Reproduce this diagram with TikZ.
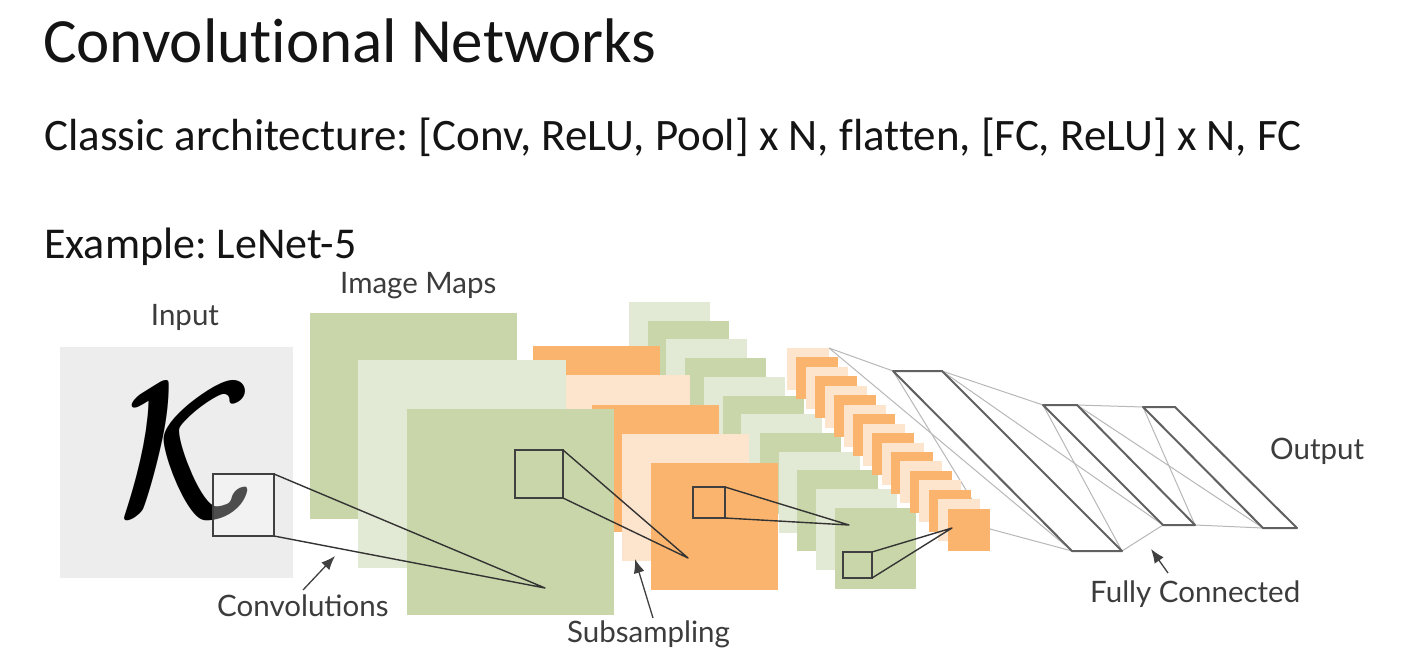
\documentclass[tikz,border=0pt]{standalone}
\usepackage{bm}
\usepackage{fontspec}
\setmainfont{Carlito}[Ligatures=NoCommon]
\newfontfamily\labelfont{Lato}
\usetikzlibrary{arrows.meta}
\frenchspacing

\definecolor{gmid}{HTML}{C9D6AA}
\definecolor{glight}{HTML}{E2E9D4}
\definecolor{orng}{HTML}{FAB46E}
\definecolor{peach}{HTML}{FDE4CC}
\definecolor{inbg}{HTML}{EDEDED}
\definecolor{labelgray}{HTML}{3C3C3C}
\definecolor{headtext}{HTML}{141414}

\begin{document}
\begin{tikzpicture}[x=1pt,y=-1pt,
  headline/.style={anchor=base west, inner sep=0, text=headtext},
  lbl/.style={inner sep=0, text=labelgray, font=\labelfont\fontsize{29.5}{33}\selectfont},
  zoomline/.style={draw=black!80, line width=1.4pt, line join=round},
  patch/.style={draw=black!75, line width=1.4pt},
  fcedge/.style={draw=black!62, line width=2pt, line join=round},
  fcwire/.style={draw=black!28, line width=1pt},
  callout/.style={-{Latex[length=14pt,width=11pt]}, line width=1.3pt, draw=black!75}]

\useasboundingbox (0,0) rectangle (1414,664);
\fill[white] (0,0) rectangle (1414,664);

% ---- headings
\node[headline, font=\fontsize{63}{72}\selectfont] (title) at (43,62) {Convolutional Networks};
\node[headline, font=\fontsize{45}{52}\selectfont] (arch) at (44,150) {Classic architecture: [Conv, ReLU, Pool] x N, flatten, [FC, ReLU] x N, FC};
\node[headline, font=\fontsize{44}{50}\selectfont] (example) at (44,258) {Example: LeNet-5};

% ---- corner points of the fully connected layers
\coordinate (f1tl) at (893,371); \coordinate (f1tr) at (942,371);
\coordinate (f1br) at (1122,551); \coordinate (f1bl) at (1072,551);
\coordinate (f2tl) at (1043,405); \coordinate (f2tr) at (1077,405);
\coordinate (f2br) at (1195,525); \coordinate (f2bl) at (1163,525);
\coordinate (f3tl) at (1143,407); \coordinate (f3tr) at (1175,407);
\coordinate (f3br) at (1297,528); \coordinate (f3bl) at (1263,528);
\coordinate (s4top) at (829,348);
\coordinate (s4bot) at (990,529);

% ---- dense wiring (behind the small maps)
\draw[fcwire] (s4top) -- (f1tl);
\draw[fcwire] (s4top) -- (f1bl);
\draw[fcwire] (s4bot) -- (f1tl);
\draw[fcwire] (s4bot) -- (f1bl);
\draw[fcwire] (f1tr) -- (f2tl);
\draw[fcwire] (f1tr) -- (f2bl);
\draw[fcwire] (f1br) -- (f2tl);
\draw[fcwire] (f1br) -- (f2bl);
\draw[fcwire] (f2tr) -- (f3tl);
\draw[fcwire] (f2tr) -- (f3bl);
\draw[fcwire] (f2br) -- (f3tl);
\draw[fcwire] (f2br) -- (f3bl);

% ---- C3 feature maps: twelve small green maps
\foreach \i in {0,...,11} {
  \ifodd\i \def\mapcol{gmid}\else\def\mapcol{glight}\fi
  \fill[\mapcol] ({629+18.7*\i},{302+18.7*\i}) rectangle ++(81,81);
}

% ---- S4 maps: eighteen tiny maps
\foreach \i in {0,...,17} {
  \ifodd\i \def\mapcol{orng}\else\def\mapcol{peach}\fi
  \fill[\mapcol] ({787+9.45*\i},{348+9.45*\i}) rectangle ++(42,42);
}

% ---- S2 maps: orange subsampling stack
\foreach \i in {0,...,4} {
  \ifodd\i \def\mapcol{peach}\else\def\mapcol{orng}\fi
  \fill[\mapcol] ({533+29.5*\i},{346+29.25*\i}) rectangle ++(127,127);
}

% ---- C1 maps
\fill[gmid]   (310,313) rectangle (517,519);
\fill[glight] (358,360) rectangle (566,568);
\fill[gmid]   (407,409) rectangle (614,615);

% ---- input image
\fill[inbg] (60,347) rectangle (293,578);
\node[xscale=15.5, yscale=19.5, inner sep=0, anchor=base] (glyph) at (186,517) {\smash{$\bm{\mathcal{K}}$}};

% ---- receptive fields and their projections
\coordinate (c1) at (545,588);
\coordinate (c2) at (688,558);
\coordinate (c3) at (849,525);
\coordinate (c4) at (952,528);

\filldraw[patch, fill=white, fill opacity=0.3] (213,474) rectangle (274,536);
\coordinate (r1t) at (274,474); \coordinate (r1b) at (274,536);
\draw[zoomline] (r1t) -- (c1) -- (r1b);

\draw[patch] (515,450) rectangle (563,498);
\coordinate (r2t) at (563,450); \coordinate (r2b) at (563,498);
\draw[zoomline] (r2t) -- (c2) -- (r2b);

\draw[patch] (693,487) rectangle (725,518);
\coordinate (r3t) at (725,487); \coordinate (r3b) at (725,518);
\draw[zoomline] (r3t) -- (c3) -- (r3b);

\draw[patch] (843,552) rectangle (872,578);
\coordinate (r4t) at (872,552); \coordinate (r4b) at (872,578);
\draw[zoomline] (r4t) -- (c4) -- (r4b);

% ---- fully connected layers
\draw[fcedge] (f1tl) -- (f1tr) -- (f1br) -- (f1bl) -- cycle;
\draw[fcedge] (f2tl) -- (f2tr) -- (f2br) -- (f2bl) -- cycle;
\draw[fcedge] (f3tl) -- (f3tr) -- (f3br) -- (f3bl) -- cycle;

% ---- labels
\node[lbl, anchor=base] (inlbl) at (185,325) {Input};
\node[lbl, anchor=base west] (maplbl) at (340,293) {Image Maps};
\node[lbl, anchor=base west] (convlbl) at (217,616) {Convolutions};
\node[lbl, anchor=base west] (sublbl) at (567,642) {Subsampling};
\node[lbl, anchor=base west] (fclbl) at (1090,602) {Fully Connected};
\node[lbl, anchor=base west] (outlbl) at (1270,459) {Output};

\coordinate (convtip) at (335,556);
\coordinate (subtip) at (635,559);
\coordinate (fctip) at (1151,549);
\draw[callout] (303,590) -- (convtip);
\draw[callout] (653,618) -- (subtip);
\draw[callout] (1168,573) -- (fctip);
\end{tikzpicture}
\end{document}
